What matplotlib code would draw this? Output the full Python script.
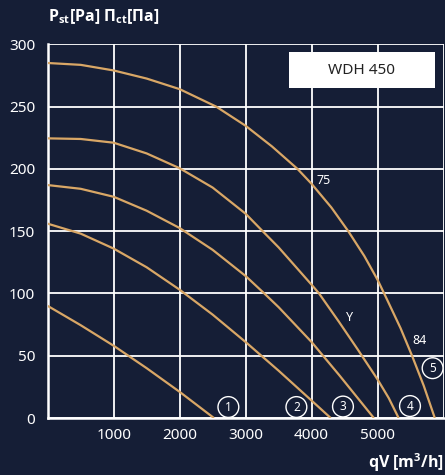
import matplotlib
matplotlib.use('Agg')
import matplotlib.pyplot as plt
from matplotlib.patches import Rectangle

plt.rcParams['font.family'] = ['Noto Sans', 'DejaVu Sans']

# fan curves, qV [m3/h] vs static pressure [Pa]
q1 = [0, 500, 1000, 1500, 2000, 2520]
p1 = [90, 74.5, 58, 40, 21, 0]

q2 = [0, 500, 1000, 1500, 2000, 2500, 3000, 3500, 4000, 4290]
p2 = [156, 148, 136, 121, 103, 83, 61, 38, 14, 0]

q3 = [0, 500, 1000, 1500, 2000, 2500, 3000, 3283, 3500, 4000, 4418, 4700, 4944]
p3 = [187, 184, 177.6, 166.4, 152.5, 135, 114, 100, 89, 61, 34.5, 16, 0]

q4 = [0, 500, 1000, 1500, 2000, 2500, 3000, 3258, 3500, 4000, 4113, 4418, 4700, 5000, 5170, 5320]
p4 = [224.5, 224, 221, 212.4, 200.5, 185, 164, 150, 137, 107, 100, 77, 55, 31, 16, 0]

q5 = [0, 500, 1000, 1500, 2000, 2553, 3000, 3400, 3786, 4000, 4300, 4556, 4800, 5000, 5145,
      5350, 5523, 5700, 5868]
p5 = [285, 283.5, 279, 272.5, 264, 250, 234.6, 218, 200, 188, 169, 150, 130, 111, 95,
      72, 50, 26, 0]

curves = [(q1, p1), (q2, p2), (q3, p3), (q4, p4), (q5, p5)]

x_ticks = [1000, 2000, 3000, 4000, 5000, 6000]
x_labels = ['1000', '2000', '3000', '4000', '5000', '']
y_ticks = [0, 50, 100, 150, 200, 250, 300]

# curve numbers (circled) and other annotations
num_labels = ['1', '2', '3', '4', '5']
num_x = [2739, 3770, 4476, 5492, 5835]
num_y = [8.8, 8.8, 9.2, 9.6, 40]
notes = ['75', 'Y', '84']
notes_x = [4190, 4573, 5640]
notes_y = [191, 81, 62.5]

bg = '#151e36'
line_col = '#d9a766'
W, H = 445, 475

fig = plt.figure(figsize=(W / 100, H / 100), dpi=100, facecolor=bg)
ax = fig.add_axes([47.7 / W, 57 / H, (443.5 - 47.7) / W, (418 - 44.3) / H])
ax.set_facecolor(bg)

for q, p in curves:
    ax.plot(q, p, color=line_col, lw=1.6, solid_capstyle='butt', solid_joinstyle='round', zorder=3)

ax.set_xlim(0, 6000)
ax.set_ylim(0, 300)
ax.set_xticks(x_ticks)
ax.set_xticklabels(x_labels)
ax.set_yticks(y_ticks)
ax.grid(color='white', lw=1.3)
ax.set_axisbelow(True)
ax.tick_params(length=0, colors='white', labelsize=11)
ax.tick_params(axis='y', pad=9)
ax.tick_params(axis='x', pad=7)
for s in ['top', 'right']:
    ax.spines[s].set_visible(False)
for s in ['left', 'bottom']:
    ax.spines[s].set_color('white')
    ax.spines[s].set_linewidth(1.8)

for t, x, y in zip(num_labels, num_x, num_y):
    ax.text(x, y, t, color='white', fontsize=8.5, ha='center', va='center', zorder=4,
            bbox=dict(boxstyle='circle,pad=0.33', fc='none', ec='white', lw=1))

for t, x, y in zip(notes, notes_x, notes_y):
    ax.text(x, y, t, color='white', fontsize=9, ha='center', va='center', zorder=4)

# model box
fig.add_artist(Rectangle((289 / W, 1 - 88.3 / H), (435 - 289) / W, (88.3 - 51.7) / H,
                         transform=fig.transFigure, fc='white', ec='none', zorder=5))
fig.text(362 / W, 1 - 70 / H, 'WDH 450', color='#222222', fontsize=11,
         ha='center', va='center', zorder=6)

bold_fam = ['Open Sans', 'DejaVu Sans']
fig.text(48 / W, 1 - 17 / H, r'P$_\mathregular{st}$[Pa] П$_\mathregular{ct}$[Па]',
         color='white', fontsize=11.5, fontweight='bold', family=bold_fam,
         ha='left', va='center')
fig.text(444 / W, 1 - 463 / H, r'qV [m$^\mathregular{3}$/h]',
         color='white', fontsize=11.5, fontweight='bold', family=bold_fam,
         ha='right', va='center')

fig.savefig('out.png', dpi=100, facecolor=bg)
